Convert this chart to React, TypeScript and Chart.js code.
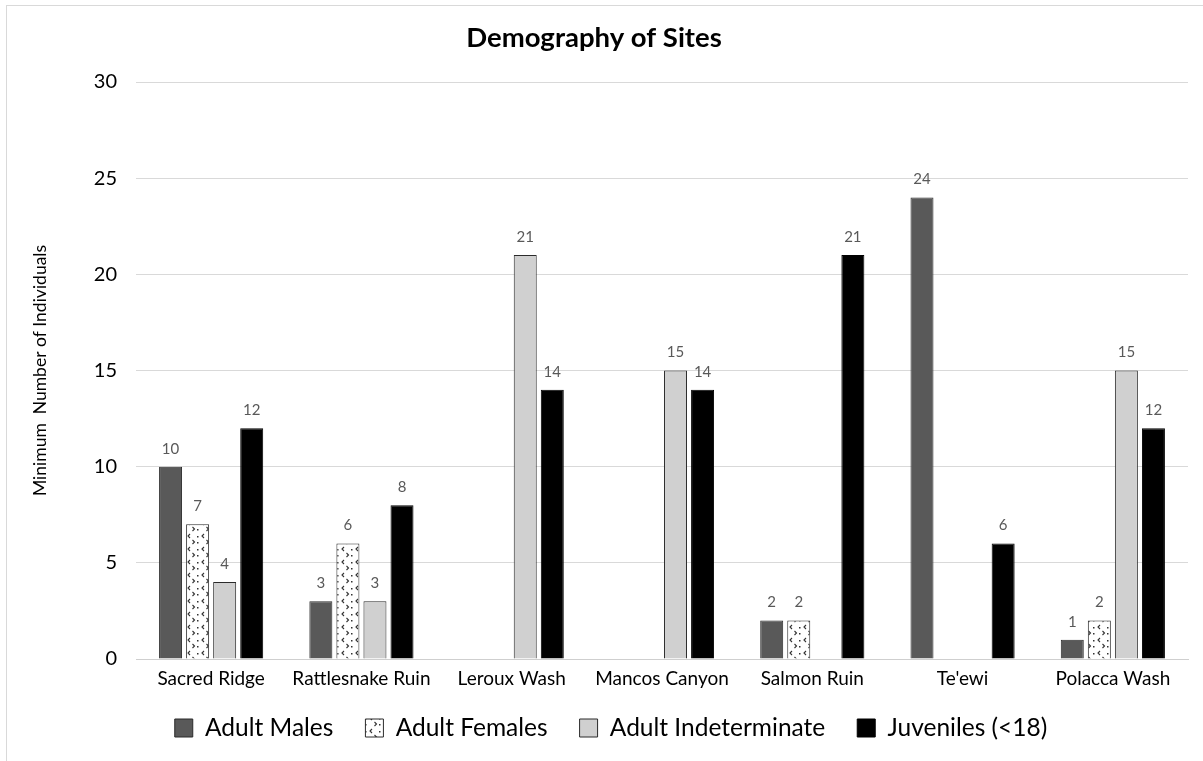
import React, { useEffect, useRef } from "react";
import { Chart, registerables } from "chart.js";

Chart.register(...registerables);

const categories = ["Sacred Ridge", "Rattlesnake Ruin", "Leroux Wash", "Mancos Canyon", "Salmon Ruin", "Te'ewi", "Polacca Wash"];
const seriesNames = ["Adult Males", "Adult Females", "Adult Indeterminate", "Juveniles (<18)"];
const adultMales = [10, 3, null, null, 2, 24, 1];
const adultFemales = [7, 6, null, null, 2, null, 2];
const adultIndeterminate = [4, 3, 21, 15, null, null, 15];
const juveniles = [12, 8, 14, 14, 21, 6, 12];
const yMin = 0;
const yMax = 30;
const yStep = 5;

const chartTitle = "Demography of Sites";
const yTitle = "Minimum  Number of Individuals";

const FONT = "Lato, 'Noto Sans', sans-serif";

function makeFemalePattern(): CanvasPattern | string {
  const c = document.createElement("canvas");
  c.width = 14;
  c.height = 13;
  const ctx = c.getContext("2d");
  if (!ctx) return "#ffffff";
  ctx.fillStyle = "#ffffff";
  ctx.fillRect(0, 0, 14, 13);
  ctx.fillStyle = "#333333";
  ctx.fillRect(1, 3, 1.5, 1.5);
  ctx.fillRect(1, 9, 1.5, 1.5);
  ctx.strokeStyle = "#333333";
  ctx.lineWidth = 1.1;
  ctx.beginPath();
  ctx.moveTo(8, 1);
  ctx.lineTo(6, 3);
  ctx.lineTo(8, 5);
  ctx.moveTo(10.5, 7);
  ctx.lineTo(12.5, 9);
  ctx.lineTo(10.5, 11);
  ctx.stroke();
  const p = ctx.createPattern(c, "repeat");
  return p || "#ffffff";
}

const valueLabels = {
  id: "valueLabels",
  afterDatasetsDraw(chart: any) {
    const ctx = chart.ctx;
    ctx.save();
    ctx.font = `15px ${FONT}`;
    ctx.fillStyle = "#595959";
    ctx.textAlign = "center";
    ctx.textBaseline = "middle";
    chart.data.datasets.forEach((ds: any, i: number) => {
      const meta = chart.getDatasetMeta(i);
      if (meta.hidden) return;
      meta.data.forEach((el: any, j: number) => {
        const v = ds.data[j];
        if (v === null || v === undefined) return;
        ctx.fillText(String(v), el.x, el.y - 18);
      });
    });
    ctx.restore();
  },
};

const LEGEND_SHIFT_Y = 10.75;
const LEGEND_SHIFT_X = 17;
const legendShift = {
  id: "legendShift",
  afterLayout(chart: any) {
    const l = chart.legend;
    if (l) {
      l.top -= LEGEND_SHIFT_Y;
      l.bottom -= LEGEND_SHIFT_Y;
      l.left += LEGEND_SHIFT_X;
      l.right += LEGEND_SHIFT_X;
    }
  },
};

export default function App() {
  const ref = useRef<HTMLCanvasElement | null>(null);

  useEffect(() => {
    if (!ref.current) return;
    const femalePattern = makeFemalePattern();
    const chart = new Chart(ref.current, {
      type: "bar",
      data: {
        labels: categories,
        datasets: [
          { label: seriesNames[0], data: adultMales, backgroundColor: "#595959", borderColor: "#2b2b2b", borderWidth: 1 },
          { label: seriesNames[1], data: adultFemales, backgroundColor: femalePattern as any, borderColor: "#2b2b2b", borderWidth: 1 },
          { label: seriesNames[2], data: adultIndeterminate, backgroundColor: "#d0d0d0", borderColor: "#2b2b2b", borderWidth: 1 },
          { label: seriesNames[3], data: juveniles, backgroundColor: "#000000", borderColor: "#000000", borderWidth: 1 },
        ],
      },
      options: {
        responsive: false,
        animation: false,
        maintainAspectRatio: false,
        datasets: { bar: { categoryPercentage: 0.72, barPercentage: 0.85 } },
        layout: { padding: { left: 0, right: 15, top: 0, bottom: 0 } },
        plugins: {
          title: {
            display: true,
            text: chartTitle,
            color: "#000000",
            font: { family: FONT, size: 27.5, weight: "bold" },
            padding: { top: 22, bottom: 27 },
          },
          legend: {
            display: true,
            position: "bottom",
            labels: {
              color: "#000000",
              font: { family: FONT, size: 24.5 },
              boxWidth: 18,
              boxHeight: 18,
              padding: 32,
            },
          },
          tooltip: { enabled: false },
        },
        scales: {
          x: {
            grid: { display: false, drawTicks: false },
            border: { display: true, color: "#cfcfcf", width: 1 },
            ticks: { color: "#000000", font: { family: FONT, size: 19 }, padding: 8, maxRotation: 0 },
            afterFit: (s: any) => {
              s.height = 35.5;
            },
          },
          y: {
            min: yMin,
            max: yMax,
            grid: { color: "#d9d9d9", drawTicks: false },
            border: { display: false },
            ticks: { stepSize: yStep, color: "#000000", font: { family: FONT, size: 20 }, padding: 19 },
            title: {
              display: true,
              text: yTitle,
              color: "#000000",
              font: { family: FONT, size: 17.5 },
              padding: { top: 29.5, bottom: 0 },
            },
            afterFit: (s: any) => {
              s.width = 136;
            },
          },
        },
      },
      plugins: [valueLabels, legendShift],
    });
    return () => chart.destroy();
  }, []);

  return (
    <div style={{ position: "fixed", left: 0, top: 0, width: 1203, height: 761, background: "#ffffff", overflow: "hidden" }}>
      <canvas ref={ref} width={1203} height={761} style={{ position: "absolute", left: 0, top: 0, width: 1203, height: 761 }} />
      <div
        style={{
          position: "absolute",
          left: 6,
          top: 5,
          width: 1300,
          height: 900,
          borderLeft: "1px solid #d9d9d9",
          borderTop: "1px solid #d9d9d9",
          pointerEvents: "none",
        }}
      />
    </div>
  );
}
